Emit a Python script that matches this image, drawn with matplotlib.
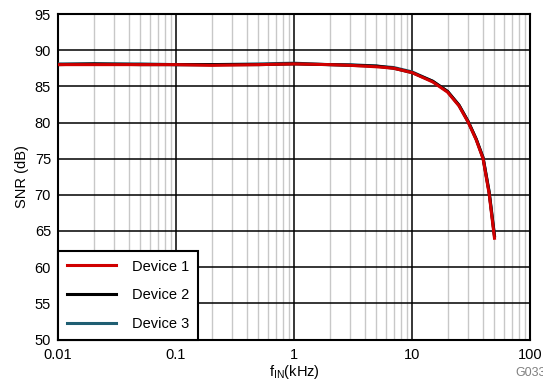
import matplotlib.pyplot as plt
import numpy as np

plt.rcParams['font.family'] = ['Liberation Sans', 'DejaVu Sans']

# input frequency (kHz) and SNR (dB) per device
freq = [0.01, 0.02, 0.05, 0.1, 0.2, 0.5, 1, 2, 3, 5, 7, 10, 15, 20, 25, 30, 35, 40, 45, 50]
snr_dev1 = [88.0, 88.0, 88.0, 88.0, 87.9, 88.0, 88.1, 88.0, 87.9, 87.7, 87.5, 86.9, 85.6, 84.2, 82.3, 80.0, 77.6, 75.0, 70.2, 64.0]
snr_dev2 = [88.0, 88.1, 88.0, 88.0, 88.0, 88.0, 88.1, 88.0, 87.9, 87.8, 87.5, 86.9, 85.7, 84.3, 82.4, 80.1, 77.7, 75.1, 70.4, 64.3]
snr_dev3 = [88.1, 88.1, 88.1, 88.0, 88.0, 88.1, 88.2, 88.0, 88.0, 87.8, 87.6, 87.0, 85.7, 84.3, 82.4, 80.1, 77.7, 75.2, 70.5, 64.4]
labels = ['Device 1', 'Device 2', 'Device 3']

fig = plt.figure(figsize=(5.43, 3.85), dpi=100)
ax = fig.add_axes([58 / 543, 1 - 339.5 / 385, 472 / 543, 325.5 / 385])

l3, = ax.plot(freq, snr_dev3, color='#1f5e72', lw=2.2, zorder=3)
l2, = ax.plot(freq, snr_dev2, color='black', lw=2.2, zorder=4)
l1, = ax.plot(freq, snr_dev1, color='#d00000', lw=2.2, zorder=5)

ax.set_xscale('log')
ax.set_xlim(0.01, 100)
ax.set_ylim(50, 95)
ax.set_yticks(np.arange(50, 96, 5))
ax.set_xticks([0.01, 0.1, 1, 10, 100])
ax.set_xticklabels(['0.01', '0.1', '1', '10', '100'])

ax.grid(which='major', color='black', lw=1.1)
ax.grid(which='minor', axis='x', color='#c8c8c8', lw=1.0)
ax.set_axisbelow(True)
ax.tick_params(which='both', length=0, labelsize=10.5)
ax.tick_params(axis='x', pad=6)
ax.tick_params(axis='y', pad=5)
for s in ax.spines.values():
    s.set_linewidth(1.5)

ax.set_ylabel('SNR (dB)', fontsize=10.5, labelpad=4)
ax.set_xlabel(r'f$_{\mathregular{IN}}$(kHz)', fontsize=10.5, labelpad=1)

leg = ax.legend([l1, l2, l3], labels, loc='lower left', fontsize=10.5,
                borderaxespad=0, fancybox=False, framealpha=1,
                edgecolor='black', handlelength=3.4, handletextpad=1.1,
                borderpad=0.6, labelspacing=1.0)
leg.get_frame().set_linewidth(1.5)
leg.set_zorder(10)

fig.text(515 / 543, 1 - 376 / 385, 'G033', fontsize=9, color='#808080')

fig.savefig('out.png', dpi=100)
